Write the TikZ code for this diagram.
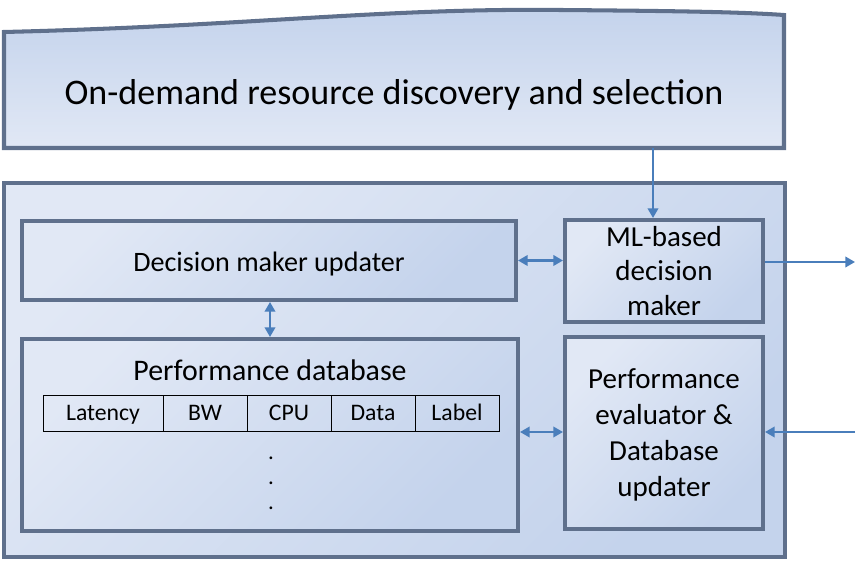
\documentclass[tikz,border=0pt]{standalone}
\usepackage{fontspec}
\setmainfont{Carlito}
\usetikzlibrary{arrows.meta}

\definecolor{boxline}{RGB}{95,112,140}
\definecolor{boxlight}{RGB}{225,232,245}
\definecolor{boxdark}{RGB}{196,211,236}
\definecolor{linkblue}{RGB}{74,126,187}

\tikzset{
  panel/.style={draw=boxline, line width=2.3pt, top color=boxlight, bottom color=boxdark, shading angle=45},
  block/.style={panel, rectangle, align=center, inner sep=0pt, font=\fontsize{16.5}{19.5}\selectfont},
  cell/.style={draw, line width=0.5pt, rectangle, minimum width=84*0.02cm, minimum height=36*0.02cm, inner sep=0pt, text height=9.6pt, text depth=1pt, font=\fontsize{13.5}{15}\selectfont},
  dot/.style={inner sep=0pt, font=\fontsize{13}{13}\selectfont},
  link/.style={draw=linkblue, line width=1.2pt, -{Triangle[length=5.5pt,width=6pt]}},
  dlink/.style={link, {Triangle[length=5.5pt,width=6pt]}-{Triangle[length=5.5pt,width=6pt]}}
}

\begin{document}
\begin{tikzpicture}[x=0.02cm, y=-0.02cm]
	\useasboundingbox (0,0) rectangle (859,563);
	% banner
	\path[panel, top color=boxdark, bottom color=boxlight, shading angle=0] (4,148) -- (4,32)
		.. controls (250,26) and (380,8) .. (560,10)
		.. controls (680,11) and (740,12) .. (784,15) -- (784,148) -- cycle;
	\node[font=\fontsize{20.5}{24}\selectfont] (banner) at (394,95) {On-demand resource discovery and selection};
	\coordinate (bannerout) at (653,148);
	% outer frame
	\path[panel] (4,183) rectangle (785,557);
	% blocks
	\node[block, font=\fontsize{16}{19}\selectfont, text height=13pt, text depth=1pt, minimum width=494*0.02cm, minimum height=79*0.02cm] (updater) at (269,260.5) {Decision maker updater};
	\node[block, minimum width=198*0.02cm, minimum height=102*0.02cm] (ml) at (664,271) {ML-based\\decision\\maker};
	\node[block, minimum width=496*0.02cm, minimum height=192*0.02cm] (perfdb) at (270,435) {};
	\node[font=\fontsize{17}{20}\selectfont] (perftitle) at (270,370) {Performance database};
	\node[block, font=\fontsize{16.5}{20.5}\selectfont, text depth=0pt, minimum width=198*0.02cm, minimum height=192*0.02cm] (evaluator) at (664,433) {Performance\\evaluator \&\\Database\\updater};
	% table
	\node[cell, minimum width=120*0.02cm] (latency) at (103,413) {Latency};
	\node[cell] (bw) at (205,413) {BW};
	\node[cell] (cpu) at (289,413) {CPU};
	\node[cell] (data) at (373,413) {Data};
	\node[cell] (label) at (457,413) {Label};
	\foreach \y/\name in {458/dota, 483/dotb, 508/dotc}
		\node[dot] (\name) at (271,\y) {.};
	% connectors
	\coordinate (mlout) at (855,262);
	\coordinate (evalin) at (855,432);
	\draw[link] (bannerout) -- (ml.north -| bannerout);
	\draw[link] (ml.east |- mlout) -- (mlout);
	\draw[link] (evalin) -- (evalin -| evaluator.east);
	\draw[dlink] (updater.east) -- (updater.east -| ml.west);
	\draw[dlink] (updater.south -| perftitle) -- (perfdb.north -| perftitle);
	\draw[dlink] (perfdb.east |- evalin) -- (evaluator.west |- evalin);
\end{tikzpicture}
\end{document}
